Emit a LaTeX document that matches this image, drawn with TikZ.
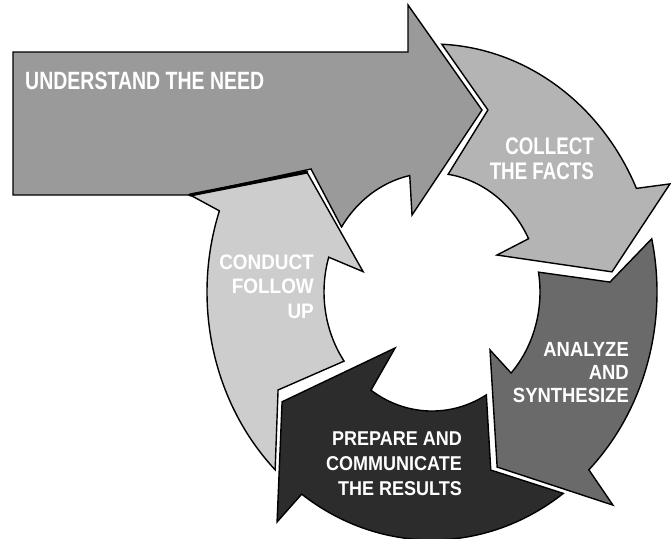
\documentclass[tikz,border=0pt]{standalone}
\usepackage{fontspec}
\setmainfont{Liberation Sans}
% narrow bold lettering for the stage labels
\newfontfamily\condA[FakeStretch=0.78]{Liberation Sans}
\newfontfamily\condB[FakeStretch=0.9]{Liberation Sans}

\definecolor{cUnder}{HTML}{9A9A9A}
\definecolor{cCollect}{HTML}{B4B4B4}
\definecolor{cAnalyze}{HTML}{6A6A6A}
\definecolor{cPrepare}{HTML}{2C2C2C}
\definecolor{cFollow}{HTML}{CDCDCD}

\begin{document}
\begin{tikzpicture}[x=1pt,y=-1pt,
  stage/.style={draw=black, line width=1.4pt, line join=miter, miter limit=8},
  lbl/.style={text=white, inner sep=0pt, align=right, font=\bfseries}]

\fill[white] (0,0) rectangle (671,538);
\useasboundingbox (0,0) rectangle (671,538);

% corners of the long entry arrow
\coordinate (u1) at (13,52);
\coordinate (u2) at (408,52);
\coordinate (u3) at (408,5);
\coordinate (u4) at (482,110);
\coordinate (u5) at (412,215);
\coordinate (u6) at (311,169);
\coordinate (u7) at (190,195);
\coordinate (u8) at (13,195);

% ring: polar coordinates (angle:r) with r=1 on the outer rim, r=0.48 on the inner rim
\begin{scope}[shift={(432,292)}, x=225pt, y=248pt]
  % entry arrow: bar with head, lower edge following the inner rim
  \draw[stage, fill=cUnder] (u1) -- (u2) -- (u3) -- (u4) -- (u5)
    -- (101.9:0.48) arc[start angle=101.9, end angle=146.9, radius=0.48]
    -- (u6) -- (u7) -- (u8) -- cycle;

  % collect the facts
  \draw[stage, fill=cCollect] (87.5:1) arc[start angle=87.5, end angle=24.7, radius=1]
    -- (22.4:1.144) -- (5.8:0.804) -- (27.3:0.325)
    -- (26.6:0.48) arc[start angle=26.6, end angle=81.4, radius=0.48]
    -- (71.3:0.775) -- cycle;

  % analyze and synthesize
  \draw[stage, fill=cAnalyze] (12.4:1) arc[start angle=12.4, end angle=-45.8, radius=1]
    -- (-46.9:1.177) -- (-67.7:0.763) -- (-42.2:0.348)
    -- (-42.9:0.48) arc[start angle=-42.9, end angle=9.6, radius=0.48]
    -- (2.9:0.792) -- cycle;

  % prepare and communicate
  \draw[stage, fill=cPrepare] (-54.3:1) arc[start angle=-54.3, end angle=-125.4, radius=1]
    -- (-126.6:1.155) -- (-146.4:0.80) -- (-126:0.279)
    -- (-124.4:0.48) arc[start angle=-124.4, end angle=-59.8, radius=0.48]
    -- (-70:0.764) -- cycle;

  % conduct follow up
  \draw[stage, fill=cFollow] (225.8:1) arc[start angle=225.8, end angle=160.9, radius=1]
    -- (160:1.145) -- (139:0.737) -- (165:0.317)
    -- (163:0.48) arc[start angle=163, end angle=215.5, radius=0.48]
    -- (210:0.79) -- cycle;
  % heavy shadow edge under the bar
  \draw[line width=3.2pt, line cap=round] (u7) -- (139:0.737);
\end{scope}

% labels
\node[lbl, anchor=west, font=\condA\bfseries\fontsize{25}{25}\selectfont] (tUnder) at (25,81) {UNDERSTAND THE NEED};
\node[lbl, anchor=east, font=\condA\bfseries\fontsize{24}{25}\selectfont] (tCollect) at (594,158.5) {COLLECT\\THE FACTS};
\node[lbl, anchor=east, font=\condB\bfseries\fontsize{20.5}{23}\selectfont] (tAnalyze) at (629,373) {ANALYZE\\AND\\SYNTHESIZE};
\node[lbl, anchor=east, font=\condB\bfseries\fontsize{20}{25}\selectfont] (tPrepare) at (462,463.5) {PREPARE AND\\COMMUNICATE\\THE RESULTS};
\node[lbl, anchor=east, font=\condB\bfseries\fontsize{21}{24.5}\selectfont] (tFollow) at (314,286.5) {CONDUCT\\FOLLOW\\UP};
\end{tikzpicture}
\end{document}
